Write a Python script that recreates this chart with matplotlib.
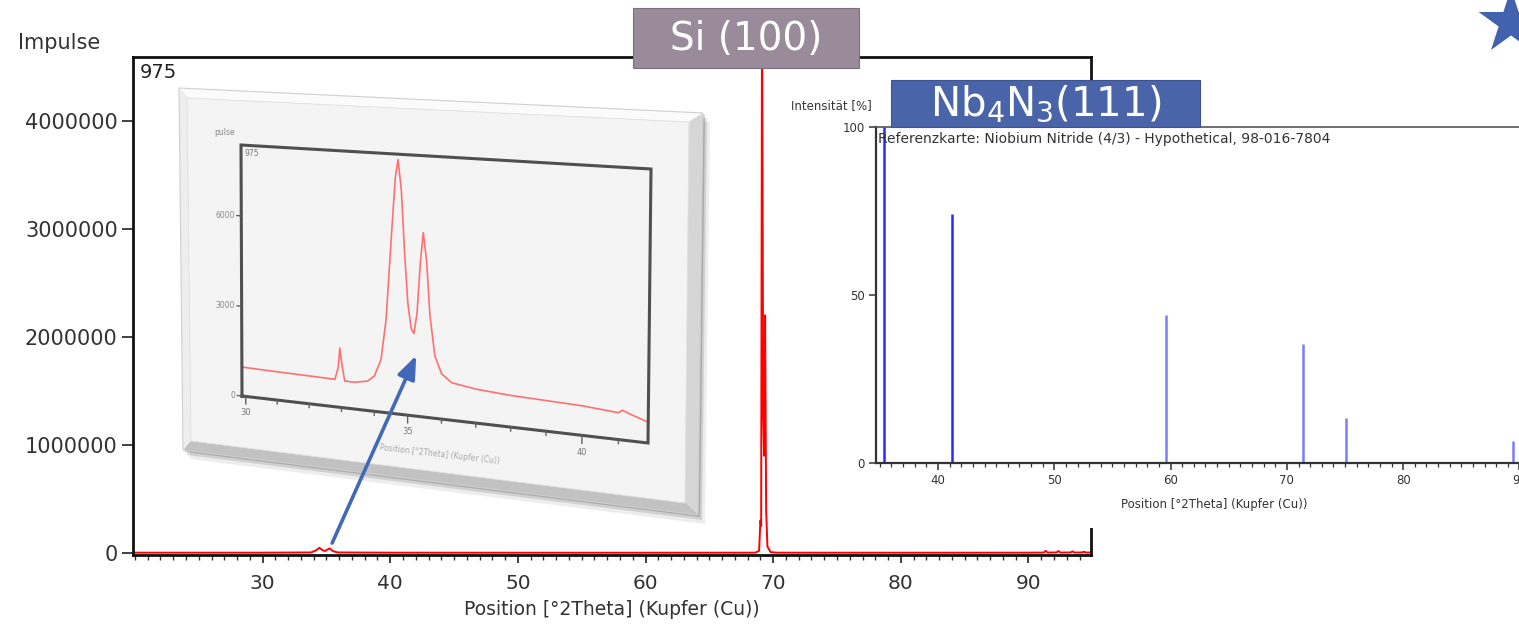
"""
XRD scan of sample 975 with zoomed inset and Nb4N3 reference card.
"""

import numpy as np
import matplotlib
matplotlib.use("Agg")
import matplotlib.pyplot as plt
import matplotlib.transforms as mtransforms
from matplotlib.patches import Polygon, Rectangle, PathPatch
from matplotlib.path import Path

plt.rcParams.update({
    "font.family": "DejaVu Sans",
    "mathtext.fontset": "dejavusans",
})

W, H = 1519, 627

# main scan (Impulse vs 2Theta)
scan_x = [20.0, 25.0, 30.0, 33.8, 34.2, 34.45, 34.7, 34.9, 35.05, 35.25, 35.5, 35.9,
          40.0, 50.0, 60.0, 68.6, 68.9, 69.0, 69.06, 69.13, 69.22, 69.29, 69.37, 69.45,
          69.55, 69.8, 70.3, 80.0, 90.0, 91.2, 91.35, 91.5, 92.2, 92.35, 92.5, 93.3,
          93.45, 93.6, 94.2, 94.35, 94.5, 94.9]
scan_y = [3000, 3000, 3000, 5000, 25000, 48000, 26000, 18000, 30000, 42000, 18000, 5000,
          3000, 2500, 2500, 3000, 20000, 300000, 250000, 5200000, 1300000, 900000, 2200000, 400000,
          60000, 8000, 3000, 2500, 3000, 4000, 20000, 4000, 5000, 18000, 4000, 5000,
          15000, 4000, 5000, 12000, 4000, 5000]
main_xticks = [30, 40, 50, 60, 70, 80, 90]
main_yticks = [0, 1000000, 2000000, 3000000, 4000000]

# zoomed picture of the 33-36 deg region
zoom_x = [29.9, 31.0, 32.0, 32.8, 32.9, 32.95, 33.0, 33.1, 33.4, 33.8, 34.0, 34.2,
          34.35, 34.5, 34.62, 34.7, 34.8, 34.9, 35.0, 35.1, 35.18, 35.27, 35.37, 35.45,
          35.55, 35.65, 35.8, 36.0, 36.3, 37.0, 38.0, 39.0, 40.0, 41.0, 41.1, 41.3, 41.8]
zoom_y = [970, 940, 920, 900, 1300, 1940, 1500, 880, 875, 960, 1150, 1700,
          3000, 5600, 7600, 8170, 7200, 5200, 3600, 2800, 2650, 3300, 5000, 5900,
          5000, 3300, 2000, 1450, 1200, 1080, 1000, 960, 920, 830, 920, 830, 640]
zoom_xticks = [30, 35, 40]
zoom_yticks = [0, 3000, 6000]

# reference card Niobium Nitride (4/3)
ref_pos = [35.35, 41.2, 59.6, 71.4, 75.1, 89.4]
ref_int = [100, 74, 44, 35.5, 13.5, 6.5]
ref_xticks = [40, 50, 60, 70, 80, 90]
ref_yticks = [0, 50, 100]


def homography(src, dst):
    """3x3 matrix mapping four src points onto four dst points."""
    A, b = [], []
    for (x, y), (X, Y) in zip(src, dst):
        A.append([x, y, 1, 0, 0, 0, -X * x, -X * y])
        b.append(X)
        A.append([0, 0, 0, x, y, 1, -Y * x, -Y * y])
        b.append(Y)
    h = np.linalg.solve(np.array(A, float), np.array(b, float))
    return np.append(h, 1.0).reshape(3, 3)


class QuadTransform(mtransforms.Transform):
    """Perspective mapping of the unit square onto a tilted quad (pixel coords)."""
    input_dims = 2
    output_dims = 2
    is_separable = False
    has_inverse = False

    def __init__(self, M):
        super().__init__()
        self.M = M

    def transform_non_affine(self, values):
        v = np.atleast_2d(np.asarray(values, float))
        p = np.column_stack([v, np.ones(len(v))]) @ self.M.T
        return p[:, :2] / p[:, 2:3]


fig = plt.figure(figsize=(W / 100, H / 100), dpi=100)
pix = mtransforms.Affine2D().scale(1 / W, -1 / H).translate(0, 1) + fig.transFigure

# ---------------- main axes ----------------
ax = fig.add_axes([133 / W, 1 - 555 / H, (1091 - 133) / W, (555 - 57) / H])
ax.plot(scan_x, scan_y, color="#ff0000", lw=1.4, zorder=2)
ax.set_xlim(19.85, 94.9)
ax.set_ylim(-18500, 4.59e6)
ax.set_xticks(main_xticks)
ax.set_xticks(np.arange(20, 95, 1), minor=True)
ax.set_yticks(main_yticks)
ax.set_yticklabels([str(v) for v in main_yticks])
for s in ax.spines.values():
    s.set_linewidth(2)
    s.set_color("#111111")
ax.tick_params(axis="x", which="major", direction="out", length=6, width=1.3,
               pad=8, labelsize=14.5, colors="#333333")
ax.tick_params(axis="x", which="minor", direction="out", length=3.5, width=1, colors="#333333")
ax.tick_params(axis="y", which="major", direction="out", length=8, width=1.3,
               pad=3, labelsize=15, colors="#333333")
ax.set_xlabel("Position [°2Theta] (Kupfer (Cu))", fontsize=13.5, color="#333333", labelpad=5)
ax.text(0.007, 0.968, "975", transform=ax.transAxes, fontsize=14, color="#222222",
        ha="left", va="center")
fig.text(18 / W, 1 - 43 / H, "Impulse", fontsize=15, color="#333333", ha="left", va="center")

# ---------------- tilted inset picture ----------------
outer = [(179, 88), (703, 113), (698, 515), (183, 450)]
inner = [(187, 98), (689, 122), (685, 503), (191, 441)]
for off, a in [((7, 9), 0.07), ((4, 5), 0.12), ((2, 2), 0.18)]:
    ax.add_patch(Polygon([(x + off[0], y + off[1]) for x, y in outer], closed=True,
                         transform=pix, fc="#000000", ec="none", alpha=a,
                         clip_on=False, zorder=3))
bevels = [
    ([outer[0], outer[1], inner[1], inner[0]], "#fbfbfb"),
    ([outer[1], outer[2], inner[2], inner[1]], "#d6d6d6"),
    ([outer[2], outer[3], inner[3], inner[2]], "#c2c2c2"),
    ([outer[3], outer[0], inner[0], inner[3]], "#eeeeee"),
]
for quad, c in bevels:
    ax.add_patch(Polygon(quad, closed=True, transform=pix, fc=c, ec="none",
                         clip_on=False, zorder=4))
ax.add_patch(Polygon(outer, closed=True, transform=pix, fc="none", ec="#cfcfcf",
                     lw=0.8, clip_on=False, zorder=4))
ax.add_patch(Polygon(inner, closed=True, transform=pix, fc="#f4f4f4", ec="#e2e2e2",
                     lw=0.6, clip_on=False, zorder=4))

# mini plot box: unit square -> tilted quad
box = [(242, 396), (648, 443), (651, 169), (241, 145)]
M = homography([(0, 0), (1, 0), (1, 1), (0, 1)], box)
uv_tr = QuadTransform(M) + pix
zx0, zx1, zymax = 29.88, 41.8, 8340
to_uv = mtransforms.Affine2D().translate(-zx0, 0).scale(1 / (zx1 - zx0), 1 / zymax)
zoom_tr = to_uv + uv_tr

ax.plot(zoom_x, zoom_y, color="#ff7070", lw=1.2, transform=zoom_tr, clip_on=False, zorder=5)
ax.plot([0, 1, 1, 0, 0], [0, 0, 1, 1, 0], color="#505050", lw=2.2,
        transform=uv_tr, clip_on=False, zorder=6, solid_joinstyle="miter")
for xt in range(30, 42):
    tl = 0.03 if xt in zoom_xticks else 0.015
    ax.plot([xt, xt], [0, -tl * zymax], color="#606060", lw=1,
            transform=zoom_tr, clip_on=False, zorder=6)
for xt in zoom_xticks:
    ax.text(xt, -0.065 * zymax, str(xt), transform=zoom_tr, fontsize=6, color="#777777",
            ha="center", va="center", zorder=6)
for yt in zoom_yticks:
    ax.plot([zx0, zx0 - 0.012 * (zx1 - zx0)], [yt, yt], color="#606060", lw=1,
            transform=zoom_tr, clip_on=False, zorder=6)
    ax.text(zx0 - 0.018 * (zx1 - zx0), yt, str(yt), transform=zoom_tr, fontsize=5.5,
            color="#888888", ha="right", va="center", zorder=6)
ax.text(-0.015, 1.05, "pulse", transform=uv_tr, fontsize=5.5, color="#888888",
        ha="right", va="center", zorder=6)
ax.text(0.01, 0.985, "975", transform=uv_tr, fontsize=5.5, color="#777777",
        ha="left", va="top", zorder=6)
ax.text(0.51, -0.135, "Position [°2Theta] (Kupfer (Cu))", transform=uv_tr, fontsize=5.5,
        color="#aaaaaa", ha="center", va="center", rotation=-6.5, zorder=6)

# arrow from the small peaks to the inset
ax.annotate("", xy=(35.25, 0.234 * zymax), xycoords=zoom_tr,
            xytext=(35.45, 92000), textcoords="data",
            arrowprops=dict(arrowstyle="-|>,head_length=1.4,head_width=0.55",
                            color="#4169b8", lw=2.6, shrinkA=0, shrinkB=0),
            annotation_clip=False, zorder=8)

# ---------------- reference card panel ----------------
fig.add_artist(Rectangle((780 / W, 1 - 528 / H), (W - 780) / W, (528 - 95) / H,
                         transform=fig.transFigure, fc="white", ec="none", zorder=1))
ax_ref = fig.add_axes([876 / W, 1 - 463 / H, (100 - 34.67) * 11.63 / W, (463 - 127) / H])
ax_ref.set_zorder(2)
ref_colors = ["#2a2aff" if h > 60 else "#7c7cff" for h in ref_int]
ax_ref.vlines(ref_pos, 0, ref_int, colors=ref_colors, lw=1.8)
ax_ref.set_xlim(34.67, 100)
ax_ref.set_ylim(0, 100)
ax_ref.set_xticks(ref_xticks)
ax_ref.set_xticks(np.arange(35, 100, 1), minor=True)
ax_ref.set_yticks(ref_yticks)
ax_ref.spines["left"].set_linewidth(1.6)
ax_ref.spines["left"].set_color("#333333")
ax_ref.spines["bottom"].set_linewidth(1.6)
ax_ref.spines["bottom"].set_color("#333333")
ax_ref.spines["top"].set_linewidth(1.2)
ax_ref.spines["top"].set_color("#555555")
ax_ref.tick_params(axis="both", which="major", direction="out", length=5, width=1.1,
                   pad=3, labelsize=8.5, colors="#333333")
ax_ref.tick_params(axis="x", which="minor", direction="out", length=3, width=0.9,
                   colors="#333333")
ax_ref.set_xlabel("Position [°2Theta] (Kupfer (Cu))", fontsize=8.5, color="#333333")
ax_ref.xaxis.set_label_coords((1214 - 876) / ((100 - 34.67) * 11.63), -0.105)
ax_ref.text(0.002, 0.985, "Referenzkarte: Niobium Nitride (4/3) - Hypothetical, 98-016-7804",
            transform=ax_ref.transAxes, fontsize=10, color="#333333", ha="left", va="top")
fig.text(791 / W, 1 - 106 / H, "Intensität [%]", fontsize=8.5, color="#333333",
         ha="left", va="center", zorder=5)

# ---------------- labels ----------------
fig.add_artist(Rectangle((633 / W, 1 - 68 / H), 226 / W, 60 / H, transform=fig.transFigure,
                         fc="#9a8b9b", ec="#7d6e7e", lw=0.8, zorder=4))
fig.text(746 / W, 1 - 39 / H, "Si (100)", fontsize=28, color="white",
         ha="center", va="center", zorder=5)
fig.add_artist(Rectangle((891 / W, 1 - 127 / H), 309 / W, 47 / H, transform=fig.transFigure,
                         fc="#4a64aa", ec="#3b5391", lw=0.8, zorder=4))
fig.text(1046 / W, 1 - 104 / H, "Nb$_4$N$_3$(111)", fontsize=29, color="white",
         ha="center", va="center", zorder=5)

star_tr = mtransforms.Affine2D().scale(34, -34).translate(1511, 22.5) + pix
fig.add_artist(PathPatch(Path.unit_regular_star(5, 0.382), transform=star_tr,
                         fc="#4262ad", ec="none", zorder=4))

fig.savefig("out.png", dpi=100)
plt.close()
